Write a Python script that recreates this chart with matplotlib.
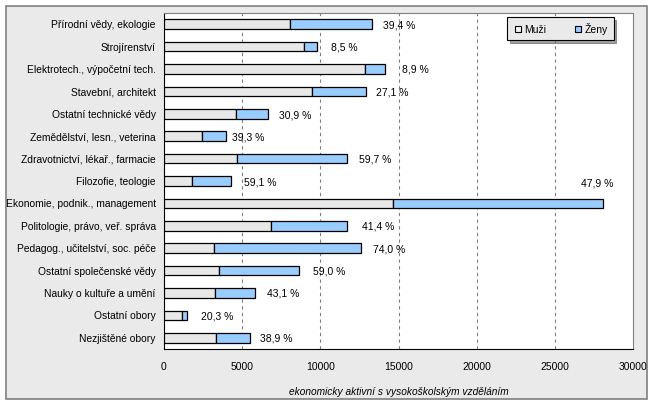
import matplotlib.pyplot as plt
from matplotlib.patches import Rectangle
from matplotlib.lines import Line2D

categories = [
    'Přírodní vědy, ekologie',
    'Strojírenství',
    'Elektrotech., výpočetní tech.',
    'Stavební, architekt',
    'Ostatní technické vědy',
    'Zemědělství, lesn., veterina',
    'Zdravotnictví, lékař., farmacie',
    'Filozofie, teologie',
    'Ekonomie, podnik., management',
    'Politologie, právo, veř. správa',
    'Pedagog., učitelství, soc. péče',
    'Ostatní společenské vědy',
    'Nauky o kultuře a umění',
    'Ostatní obory',
    'Nezjištěné obory',
]
muzi = [8080, 8980, 12880, 9440, 4590, 2420, 4690, 1760, 14670, 6860, 3220, 3540, 3290, 1120, 3300]
zeny = [5250, 830, 1260, 3480, 2050, 1570, 6990, 2545, 13430, 4830, 9360, 5080, 2510, 330, 2180]
podil = ['39,4 %', '8,5 %', '8,9 %', '27,1 %', '30,9 %', '39,3 %', '59,7 %', '59,1 %',
         '47,9 %', '41,4 %', '74,0 %', '59,0 %', '43,1 %', '20,3 %', '38,9 %']

# label placement (pixels from end of bar)
label_dx = [11, 14, 17, 10, 11, 6, 12, 13, -22, 15, 12, 14, 12, 14, 10]
label_dy = [-1, -1, -1, -1, -2, -1, -1, -2, 20, -1, -1, -1, -1, -1, -1]

plt.rcParams['font.family'] = 'Liberation Sans'
plt.rcParams['font.size'] = 7

bg = '#eaeaea'
fig = plt.figure(figsize=(6.54, 4.05), dpi=100)
fig.patch.set_facecolor('white')
fig.patches.append(Rectangle((6 / 654, 1 - 399 / 405), 641 / 654, 393 / 405,
                             transform=fig.transFigure, facecolor=bg,
                             edgecolor='#808080', linewidth=1.2, zorder=-5))

ax = fig.add_axes([164 / 654, 1 - 349 / 405, 469 / 654, 336 / 405])
ax.set_facecolor('white')

y = list(range(len(categories)))
ax.barh(y, muzi, height=0.42, color='#e8e8e8', edgecolor='black', linewidth=0.9, zorder=3)
ax.barh(y, zeny, left=muzi, height=0.42, color='#99ccff', edgecolor='black', linewidth=0.9, zorder=3)

for i in y:
    ax.annotate(podil[i], (muzi[i] + zeny[i], i), xytext=(label_dx[i], label_dy[i]),
                textcoords='offset pixels', ha='left', va='center', fontsize=7.5)

ax.set_xlim(0, 30000)
ax.set_ylim(len(categories) - 0.5, -0.5)
ax.set_xticks(range(0, 30001, 5000))
ax.set_yticks(y)
ax.set_yticklabels(categories)
ax.tick_params(axis='both', length=0)
ax.tick_params(axis='y', pad=6, labelsize=7.4)
ax.tick_params(axis='x', pad=9, labelsize=7.5)
for x in range(5000, 30000, 5000):
    ax.axvline(x, color='#808080', linestyle=(0, (3, 3)), linewidth=0.8, zorder=1)

for s in ['top', 'right']:
    ax.spines[s].set_color('#808080')
for s in ['left', 'bottom']:
    ax.spines[s].set_color('black')

ax.set_xlabel('ekonomicky aktivní s vysokoškolským vzděláním', style='italic',
              fontsize=7.3, labelpad=11)

handles = [Line2D([], [], marker='s', linestyle='none', markersize=5,
                  markerfacecolor='#f4f4f4', markeredgecolor='black', markeredgewidth=0.8),
           Line2D([], [], marker='s', linestyle='none', markersize=5,
                  markerfacecolor='#99ccff', markeredgecolor='black', markeredgewidth=0.8)]
leg = fig.legend(handles, ['Muži', 'Ženy'], ncol=2, loc='upper left',
                 bbox_to_anchor=(507 / 654, 1 - 17 / 405), fancybox=False, shadow=True,
                 framealpha=1, facecolor=bg, edgecolor='black', fontsize=7.5,
                 handletextpad=0.1, columnspacing=2.6, handlelength=1.0,
                 borderpad=0.55, borderaxespad=0)
leg.get_frame().set_linewidth(0.8)

fig.savefig('out.png', dpi=100)
